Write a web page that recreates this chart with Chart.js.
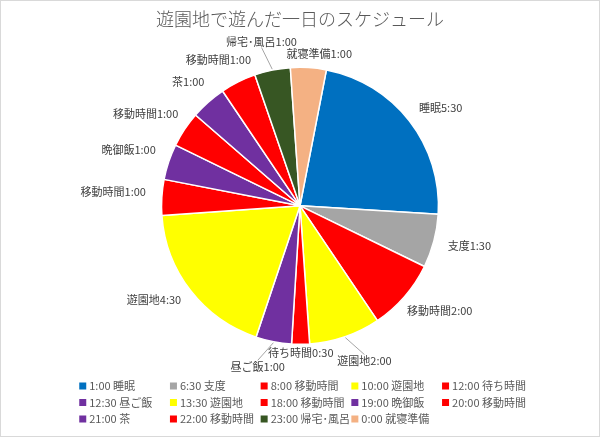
<!DOCTYPE html>
<html>
<head>
<meta charset="utf-8">
<script src="https://cdn.jsdelivr.net/npm/chart.js@4"></script>
<style>
  body { margin: 0; background: #fff; }
</style>
</head>
<body>
<canvas id="chartSchedule" width="600" height="437"></canvas>
<script>
// schedule data (start time, activity, hours)
var startTimes = ['1:00', '6:30', '8:00', '10:00', '12:00', '12:30', '13:30', '18:00', '19:00', '20:00', '21:00', '22:00', '23:00', '0:00'];
var activities = ['睡眠', '支度', '移動時間', '遊園地', '待ち時間', '昼ご飯', '遊園地', '移動時間', '晩御飯', '移動時間', '茶', '移動時間', '帰宅･風呂', '就寝準備'];
var hours = [5.5, 1.5, 2, 2, 0.5, 1, 4.5, 1, 1, 1, 1, 1, 1, 1];
var sliceColors = ['#0070C0', '#A5A5A5', '#FF0000', '#FFFF00', '#FF0000', '#7030A0', '#FFFF00', '#FF0000', '#7030A0', '#FF0000', '#7030A0', '#FF0000', '#375623', '#F4B183'];

var FONT = '"Noto Sans CJK JP", "Noto Sans", sans-serif';

function fmtHours(h) {
    var m = Math.round((h - Math.floor(h)) * 60);
    return Math.floor(h) + ':' + (m < 10 ? '0' + m : m);
}

// small nudges so labels sit where excel put them
var labelNudge = [[3,-1],[1,0],[0,1],[6,5],[0,-11],[-8,5],[-4,-3],[-2,-4],[-1,-6],[0,-5],[0,-5],[1,-4],[-1,-9],[8,6]];
var leaderLines = [3, 5, 12];

var dataLabels = {
    id: 'dataLabels',
    afterDatasetsDraw: function(chart) {
        var ctx = chart.ctx;
        var meta = chart.getDatasetMeta(0);
        ctx.save();
        ctx.font = '11px ' + FONT;
        ctx.textBaseline = 'middle';
        ctx.textAlign = 'center';
        meta.data.forEach(function(arc, i) {
            var p = arc.getProps(['x', 'y', 'startAngle', 'endAngle', 'outerRadius'], true);
            var mid = (p.startAngle + p.endAngle) / 2;
            var dx = Math.cos(mid), dy = Math.sin(mid);
            var text = activities[i] + fmtHours(hours[i]);
            var w = ctx.measureText(text).width, h = 12;
            var r = p.outerRadius + 14;
            var cx = p.x + dx * r + dx * w / 2 + labelNudge[i][0];
            var cy = p.y + dy * r + dy * h / 2 + labelNudge[i][1];
            if (leaderLines.indexOf(i) >= 0) {
                var sx = p.x + dx * (p.outerRadius + 1);
                var sy = p.y + dy * (p.outerRadius + 1);
                var ey = dy > 0 ? cy - h / 2 : cy + h / 2;
                ctx.strokeStyle = '#A6A6A6';
                ctx.lineWidth = 1;
                ctx.beginPath();
                ctx.moveTo(sx, sy);
                ctx.lineTo(cx, ey);
                ctx.stroke();
            }
            ctx.fillStyle = '#404040';
            ctx.fillText(text, cx, cy);
        });
        ctx.restore();
    }
};

// excel-like grid legend + white bg + border
var gridLegend = {
    id: 'gridLegend',
    beforeDraw: function(chart) {
        var ctx = chart.ctx;
        ctx.save();
        ctx.fillStyle = '#fff';
        ctx.fillRect(0, 0, chart.width, chart.height);
        ctx.strokeStyle = '#D9D9D9';
        ctx.lineWidth = 1;
        ctx.strokeRect(0.5, 0.5, chart.width - 1, chart.height - 1);
        ctx.restore();
    },
    afterDraw: function(chart) {
        var ctx = chart.ctx;
        var cols = 5, colW = 90.7, rowH = 16.5;
        var x0 = chart.width / 2 - cols * colW / 2 + 6;
        var y0 = chart.chartArea.bottom + 41;
        ctx.save();
        ctx.font = '11px ' + FONT;
        ctx.textBaseline = 'middle';
        ctx.textAlign = 'left';
        startTimes.forEach(function(t, i) {
            var x = x0 + (i % cols) * colW;
            var y = y0 + Math.floor(i / cols) * rowH;
            ctx.fillStyle = sliceColors[i];
            ctx.fillRect(x, y - 3.5, 7, 7);
            ctx.fillStyle = '#595959';
            ctx.fillText(t + ' ' + activities[i], x + 10, y);
        });
        ctx.restore();
    }
};

var ctx = document.getElementById('chartSchedule');
var myPieChart = new Chart(ctx, {
    type: 'pie',
    data: {
        labels: activities,
        datasets: [{
            data: hours,
            backgroundColor: sliceColors,
            borderColor: '#fff',
            borderWidth: 1.5,
            hoverOffset: 0
        }]
    },
    options: {
        responsive: false,
        animation: false,
        events: [],
        rotation: 11,
        layout: {
            padding: { bottom: 92 }
        },
        plugins: {
            legend: { display: false },
            tooltip: { enabled: false },
            title: {
                display: true,
                text: '遊園地で遊んだ一日のスケジュール',
                color: '#595959',
                font: { family: FONT, size: 18, weight: '300' },
                padding: { top: 8, bottom: 37 }
            }
        }
    },
    plugins: [dataLabels, gridLegend]
});
</script>
</body>
</html>
